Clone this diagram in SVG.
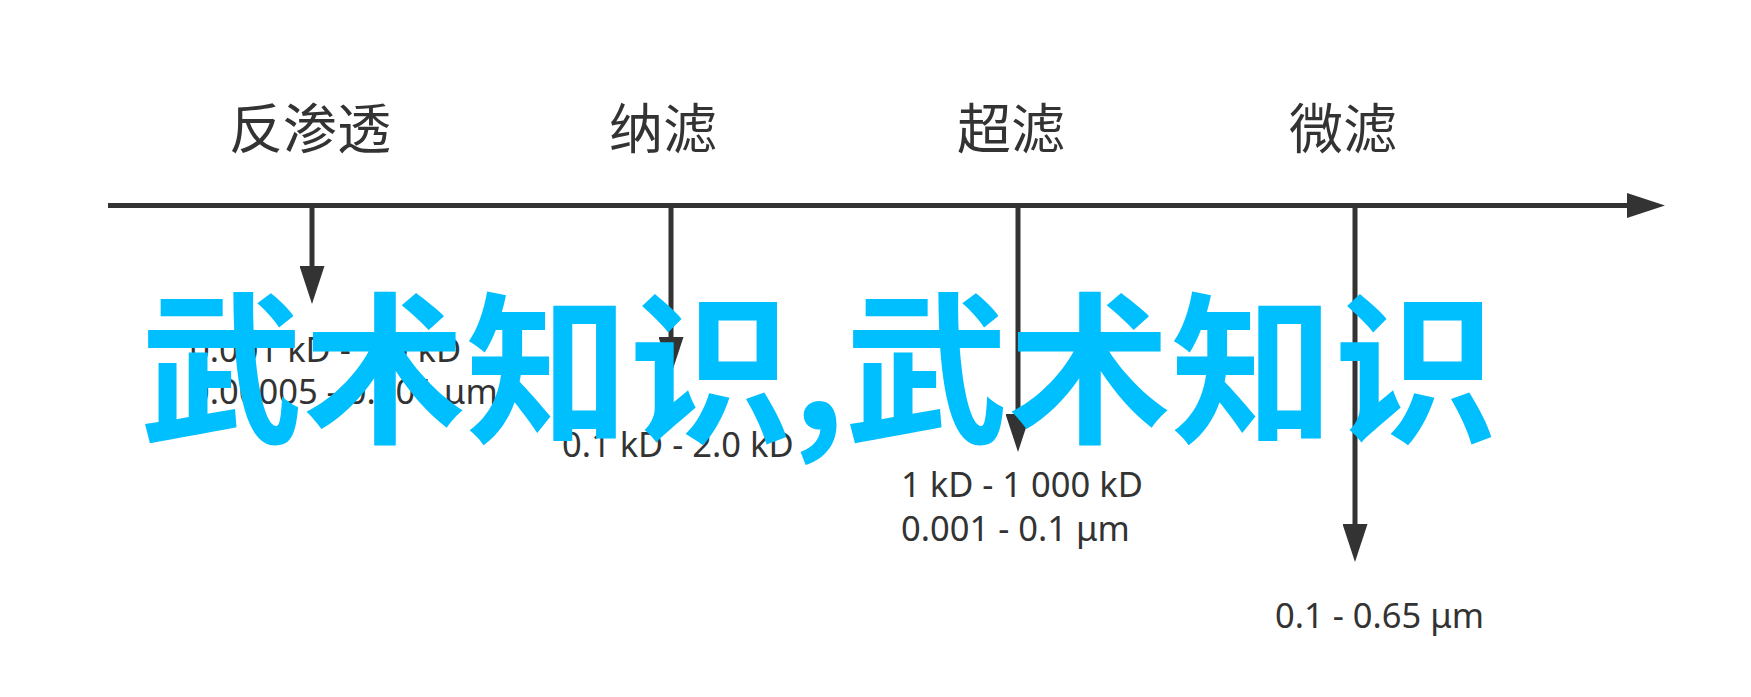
<svg xmlns="http://www.w3.org/2000/svg" width="1751" height="697" viewBox="0 0 1751 697">
  <style>
    .axis { stroke: #333333; stroke-width: 5; fill: none; }
    .head { fill: #333333; }
    .title { font-family: "Noto Sans CJK SC", "Noto Sans", sans-serif; font-size: 54px; fill: #333333; text-anchor: middle; }
    .range { font-family: "Noto Sans", "Open Sans", sans-serif; font-size: 34.5px; fill: #333333; }
    .overlay { font-family: "Noto Sans CJK SC", "Noto Sans", sans-serif; font-size: 163px; font-weight: bold; fill: #00bfff; }
  </style>
  <defs>
    <marker id="arrow" viewBox="0 0 38 25" markerWidth="38" markerHeight="25" refX="0" refY="12.5" orient="auto" markerUnits="userSpaceOnUse">
      <path class="head" d="M0,0 L38,12.5 L0,25 Z"/>
    </marker>
  </defs>
  <rect width="1751" height="697" fill="#ffffff"/>

  <g id="connectors">
    <line class="axis" x1="108" y1="205.5" x2="1627" y2="205.5" marker-end="url(#arrow)"/>
    <line class="axis" x1="312" y1="205" x2="312" y2="266" marker-end="url(#arrow)"/>
    <line class="axis" x1="671" y1="205" x2="671" y2="337" marker-end="url(#arrow)"/>
    <line class="axis" x1="1018" y1="205" x2="1018" y2="414" marker-end="url(#arrow)"/>
    <line class="axis" x1="1355" y1="205" x2="1355" y2="524" marker-end="url(#arrow)"/>
  </g>

  <g id="node-ro">
    <text class="title" x="310" y="149">反渗透</text>
    <text class="range" x="190" y="362">0.001 kD - 1.0 kD</text>
    <text class="range" x="190" y="404">0.00005 - 0.001 μm</text>
  </g>
  <g id="node-nf">
    <text class="title" x="663" y="149">纳滤</text>
    <text class="range" x="562" y="457">0.1 kD - 2.0 kD</text>
  </g>
  <g id="node-uf">
    <text class="title" x="1011" y="149">超滤</text>
    <text class="range" x="901" y="497">1 kD - 1 000 kD</text>
    <text class="range" x="901" y="541">0.001 - 0.1 μm</text>
  </g>
  <g id="node-mf">
    <text class="title" x="1343" y="149">微滤</text>
    <text class="range" x="1275" y="628">0.1 - 0.65 μm</text>
  </g>

  <g id="overlay">
    <text class="overlay" x="140" y="430">武术知识,武术知识</text>
  </g>
</svg>
